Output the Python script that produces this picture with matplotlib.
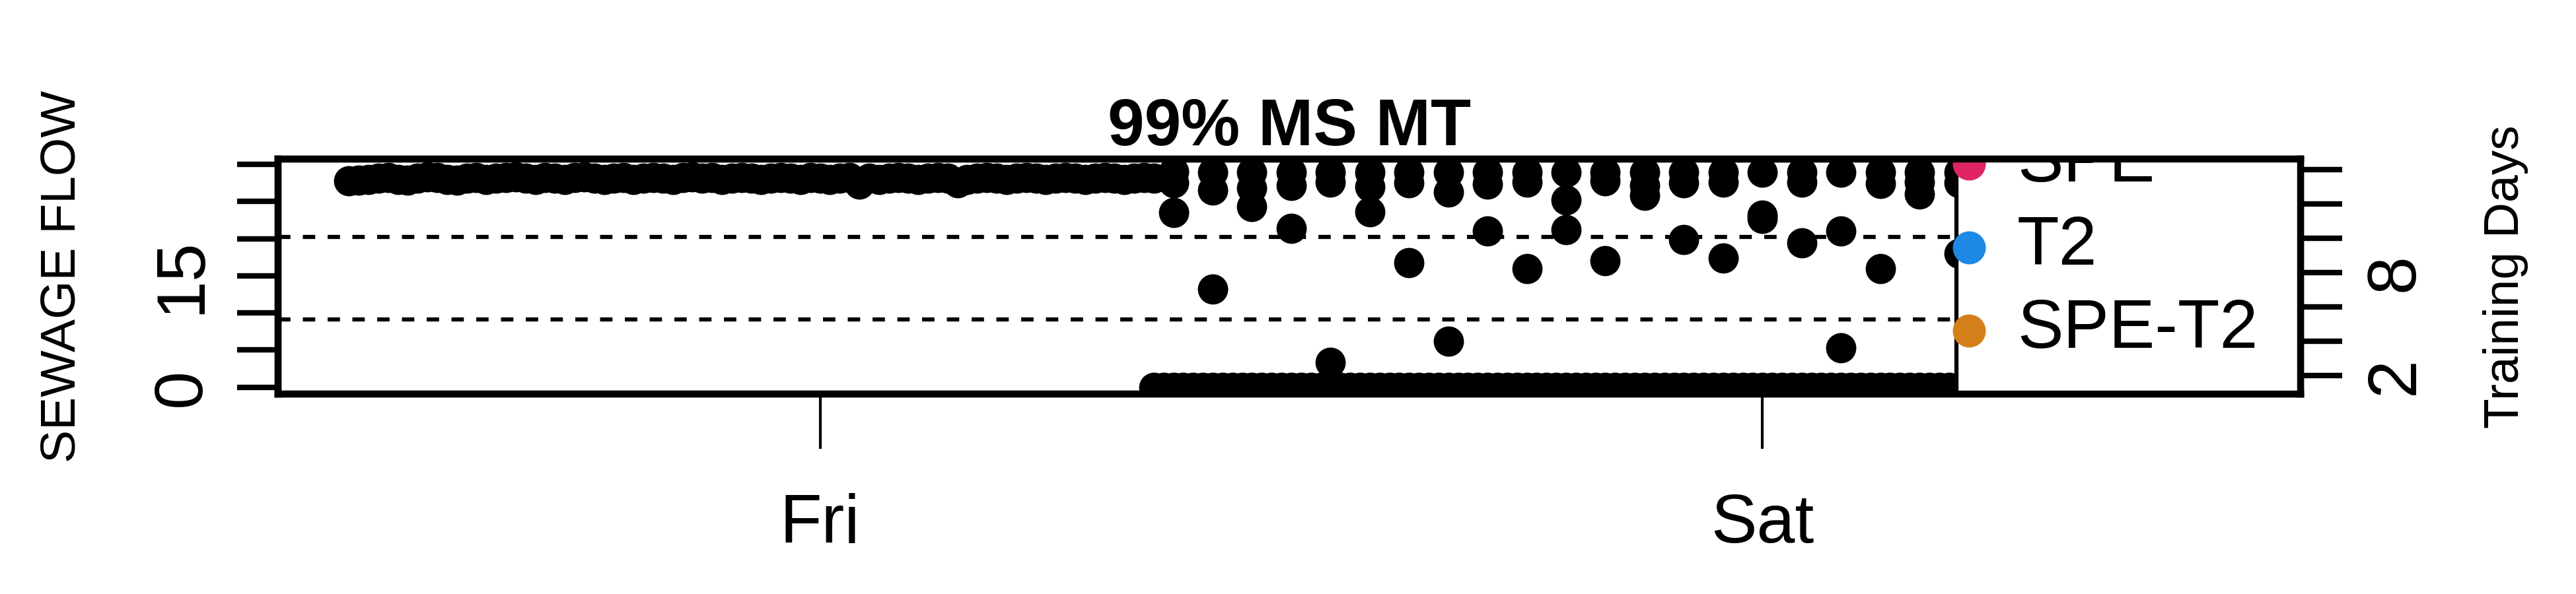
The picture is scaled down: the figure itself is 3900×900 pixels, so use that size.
import matplotlib.pyplot as plt
import numpy as np
from matplotlib.patches import Rectangle

plt.rcParams['font.family'] = ['Liberation Sans', 'DejaVu Sans']

# hours since Thursday 00:00
DAY_TICKS = [24, 48]
DAY_LABELS = ['Fri', 'Sat']

# dense flow readings, every 15 min from Thu 12:00 to Fri 08:30
dense_start, dense_step = 12.0, 0.25
dense_flow = [27.8, 27.9, 28.0, 28.1, 28.2, 28.0, 27.9, 28.1, 28.3, 28.2,
              28.0, 27.9, 28.1, 28.2, 28.0, 28.1, 28.2, 28.3, 28.1, 28.0,
              28.2, 28.1, 28.0, 28.2, 28.3, 28.1, 28.0, 28.1, 28.2, 28.0,
              28.1, 28.2, 28.1, 28.0, 28.2, 28.3, 28.1, 28.2, 28.0, 28.1,
              28.2, 28.1, 28.0, 28.1, 28.2, 28.1, 28.0, 28.2, 28.1, 28.0,
              28.1, 28.2, 27.3, 28.1, 28.0, 28.1, 28.2, 28.1, 28.0, 28.1,
              28.2, 28.1, 27.5, 28.0, 28.1, 28.2, 28.1, 28.0, 28.1, 28.2,
              28.1, 28.0, 28.1, 28.2, 28.1, 28.0, 28.1, 28.2, 28.1, 28.0,
              28.1, 28.2, 28.1]

# zero-flow readings, every 15 min from Fri 08:30 to Sat 12:00
zero_start, zero_step, n_zero = 32.5, 0.25, 111

# hourly readings from Fri 09:00 on (several values per hour)
hour_x = [33, 34, 35, 36, 37, 38, 39, 40, 41, 42, 43, 44, 45, 46, 47,
          48, 49, 50, 51, 52, 53, 54, 55, 56]
hour_vals = [[29.0, 27.5, 23.5], [28.9, 26.5, 13.2], [28.9, 26.8, 24.3],
             [28.9, 27.2, 21.4], [28.9, 27.6, 3.3], [28.9, 27.0, 23.6],
             [28.9, 27.5, 16.8], [28.9, 26.3, 6.2], [28.9, 27.3, 21.0],
             [28.9, 27.6, 16.0], [28.9, 25.2, 21.2], [28.9, 27.8, 17.0],
             [28.9, 25.8, 27.2], [28.9, 27.5, 19.9], [28.9, 27.6, 17.4],
             [28.9, 22.7, 23.2], [28.9, 27.6, 19.4], [28.9, 21.0, 5.3],
             [28.9, 27.4, 16.0], [28.9, 27.6, 26.0], [28.9, 27.5, 18.0],
             [28.9, 27.2, 22.0], [28.9, 27.6, 24.0], [28.9, 27.5, 15.0]]
limits = [20.2, 9.1]

legend_labels = ['SPE', 'T2', 'SPE-T2']
legend_colors = ['#DF2466', '#1E88E5', '#D4801A']

MS = 11

fig = plt.figure(figsize=(13, 3), dpi=300)
ax = fig.add_axes([0.108, 0.337, 0.785, 0.395])

dx = dense_start + dense_step * np.arange(len(dense_flow))
ax.plot(dx, dense_flow, 'o', color='black', ms=MS, mew=0)
zx = zero_start + zero_step * np.arange(n_zero)
ax.plot(zx, [0] * n_zero, 'o', color='black', ms=MS, mew=0)
for h, vals in zip(hour_x, hour_vals):
    ax.plot([h] * len(vals), vals, 'o', color='black', ms=MS, mew=0)
for lim in limits:
    ax.axhline(lim, color='black', ls=(0, (3, 3)), lw=1.5)

ax.set_xlim(10.2, 61.7)
ax.set_ylim(-0.9, 30.7)
ax.set_yticks([0, 5, 10, 15, 20, 25, 30])
ax.set_yticklabels(['0', '', '', '15', '', '', ''], rotation=90, va='center')
ax.set_xticks(DAY_TICKS)
ax.set_xticklabels(DAY_LABELS)
ax.tick_params(axis='y', length=15, width=2, labelsize=25, pad=8)
ax.tick_params(axis='x', length=20, width=1, labelsize=25, pad=16)
for s in ax.spines.values():
    s.set_linewidth(2.5)
ax.set_ylabel('SEWAGE FLOW', fontsize=18, labelpad=24)
ax.set_title('99% MS MT', fontsize=24, fontweight='bold', pad=4)

# legend box clipped by the plot region
lx0 = 0.83
ax.add_patch(Rectangle((lx0, -0.1), 0.3, 1.2, transform=ax.transAxes,
                       facecolor='white', edgecolor='black', lw=1.5, zorder=5))
for i, (lab, col) in enumerate(zip(legend_labels, legend_colors)):
    yy = 0.98 - i * 0.355
    ax.plot(lx0 + 0.006, yy, 'o', color=col, ms=MS, transform=ax.transAxes,
            zorder=6, clip_on=True)
    ax.text(lx0 + 0.03, yy, lab, fontsize=25, va='center',
            transform=ax.transAxes, zorder=6, clip_on=True)

ax2 = ax.twinx()
ax2.set_ylim(0.94, 14.6)
ax2.set_yticks([2, 4, 6, 8, 10, 12, 14])
ax2.set_yticklabels(['2', '', '', '8', '', '', ''], rotation=90, va='center')
ax2.tick_params(axis='y', length=15, width=2, labelsize=25, pad=8)
ax2.set_ylabel('Training Days', fontsize=18, labelpad=20)
for s in ax2.spines.values():
    s.set_linewidth(2.5)

fig.savefig('out.png', dpi=300)
